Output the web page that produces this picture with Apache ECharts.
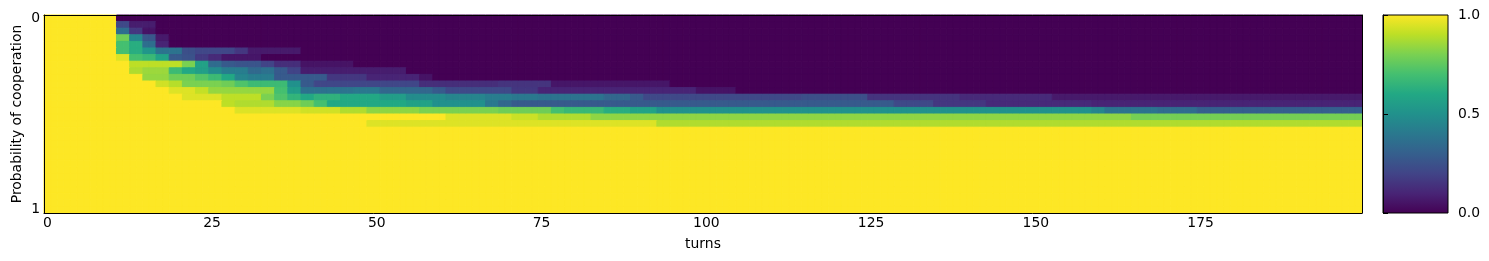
<!DOCTYPE html>
<html><head><meta charset="utf-8">
<script src="https://cdn.jsdelivr.net/npm/echarts@6/dist/echarts.min.js"></script>
<style>html,body{margin:0;padding:0;background:#fff}#c{width:1489px;height:261px}</style>
</head><body><div id="c"></div>
<script>
// Heatmap values: each row listed as runs [startTurn, value]; a run lasts until the next start.
const nTurns = 200;
const row00 = [[0,1],[11,0]];
const row01 = [[0,1],[11,0.22],[13,0.08],[17,0]];
const row02 = [[0,1],[11,0.36],[13,0.16],[15,0.05],[17,0]];
const row03 = [[0,1],[11,0.78],[13,0.46],[15,0.27],[17,0.07],[19,0]];
const row04 = [[0,1],[11,0.70],[13,0.62],[15,0.36],[17,0.10],[19,0]];
const row05 = [[0,1],[11,0.70],[13,0.62],[15,0.52],[17,0.38],[21,0.24],[23,0.21],[29,0.16],[31,0.07],[39,0]];
const row06 = [[0,1],[11,0.95],[13,0.70],[15,0.67],[17,0.58],[19,0.28],[21,0.25],[23,0.17],[25,0.12],[27,0.06],[33,0]];
const row07 = [[0,1],[13,0.90],[21,0.80],[23,0.57],[25,0.35],[27,0.28],[29,0.26],[33,0.20],[35,0.13],[39,0.05],[47,0]];
const row08 = [[0,1],[13,0.88],[15,0.85],[19,0.68],[21,0.60],[23,0.56],[25,0.48],[27,0.42],[31,0.34],[33,0.37],[35,0.28],[37,0.20],[39,0.08],[55,0]];
const row09 = [[0,1],[15,0.84],[19,0.78],[23,0.73],[25,0.68],[27,0.60],[29,0.45],[31,0.42],[35,0.28],[43,0.16],[49,0.10],[57,0.05],[59,0]];
const row10 = [[0,1],[17,0.93],[19,0.89],[21,0.80],[27,0.78],[29,0.72],[31,0.68],[37,0.50],[39,0.28],[41,0.21],[57,0.13],[69,0.15],[77,0.06],[95,0]];
const row11 = [[0,1],[19,0.95],[23,0.91],[25,0.84],[35,0.70],[37,0.55],[39,0.37],[43,0.38],[47,0.40],[51,0.33],[59,0.28],[61,0.22],[71,0.16],[75,0.10],[99,0.05],[105,0]];
const row12 = [[0,1],[21,0.95],[27,0.90],[33,0.80],[35,0.72],[37,0.65],[39,0.60],[41,0.64],[45,0.60],[51,0.55],[55,0.48],[61,0.45],[67,0.42],[71,0.40],[75,0.38],[85,0.33],[89,0.28],[91,0.22],[115,0.24],[125,0.15],[139,0.12],[153,0.07]];
const row13 = [[0,1],[27,0.90],[29,0.88],[35,0.82],[39,0.78],[41,0.70],[43,0.60],[55,0.57],[59,0.50],[67,0.40],[69,0.33],[71,0.28],[129,0.22],[135,0.16],[143,0.12],[159,0.10]];
const row14 = [[0,1],[29,0.95],[39,0.93],[45,0.88],[49,0.83],[57,0.80],[69,0.78],[77,0.70],[79,0.67],[85,0.62],[89,0.58],[93,0.50],[159,0.45],[161,0.38],[169,0.35],[175,0.30]];
const row15 = [[0,1],[61,0.95],[71,0.92],[75,0.88],[83,0.83],[165,0.79]];
const row16 = [[0,1],[49,0.95],[93,0.88]];
const rowFull = [[0,1]];
const rows = [row00,row01,row02,row03,row04,row05,row06,row07,row08,row09,row10,row11,row12,row13,row14,row15,row16,
  rowFull,rowFull,rowFull,rowFull,rowFull,rowFull,rowFull,rowFull,rowFull,rowFull,rowFull,rowFull,rowFull];

const xTickTurns = [0,25,50,75,100,125,150,175];
const yTickRows = [0,29];
const yTickText = ['0','1'];
const cbarTicks = [0,0.5,1];

const viridis = ['#440154','#482475','#414487','#355f8d','#2a788e','#21918c','#22a884','#44bf70','#7ad151','#bddf26','#fde725'];

// expand runs into cells
const cells = [];
rows.forEach((runs, r) => {
  for (let c = 0; c < nTurns; c++) {
    let v = runs[0][1];
    for (const [s, val] of runs) { if (s <= c) v = val; }
    cells.push([c, r, v]);
  }
});
const xCats = Array.from({length: nTurns}, (_, i) => String(i));
const yCats = Array.from({length: rows.length}, (_, i) => String(i));

const font = 'DejaVu Sans';
const fs = 13.9;
const chart = echarts.init(document.getElementById('c'), null, {renderer: 'canvas'});
chart.setOption({
  animation: false,
  backgroundColor: '#fff',
  textStyle: {fontFamily: font},
  grid: [
    {left: 44, right: 127, top: 15, bottom: 48, containLabel: false, outerBoundsMode: 'none'},
    {left: 1383, width: 65, top: 15, height: 198, show: true, borderColor: '#000', borderWidth: 1,
     containLabel: false, outerBoundsMode: 'none',
     backgroundColor: {type: 'linear', x: 0, y: 1, x2: 0, y2: 0,
       colorStops: viridis.map((c, i) => ({offset: i / (viridis.length - 1), color: c}))}}
  ],
  xAxis: [
    {type: 'category', gridIndex: 0, data: xCats, boundaryGap: true, z: 10,
     name: 'turns', nameLocation: 'middle', nameGap: 24, nameMoveOverlap: false,
     nameTextStyle: {fontFamily: font, fontSize: fs, color: '#000'},
     axisLine: {show: true, lineStyle: {color: '#000', width: 1}},
     axisTick: {show: false},
     axisLabel: {show: true, margin: 3, color: '#000', fontFamily: font, fontSize: fs,
       interval: (i) => xTickTurns.includes(i)},
     splitLine: {show: false}},
    {type: 'category', gridIndex: 0, data: xCats, position: 'top', z: 10,
     axisLine: {show: true, lineStyle: {color: '#000', width: 1}},
     axisTick: {show: false}, axisLabel: {show: false}, splitLine: {show: false}},
    {type: 'value', gridIndex: 1, min: 0, max: 1, show: false}
  ],
  yAxis: [
    {type: 'category', gridIndex: 0, data: yCats, inverse: true, z: 10,
     name: 'Probability of cooperation', nameLocation: 'middle', nameGap: 20, nameRotate: 90,
     nameMoveOverlap: false,
     nameTextStyle: {fontFamily: font, fontSize: fs, color: '#000'},
     axisLine: {show: true, lineStyle: {color: '#000', width: 1}},
     axisTick: {show: false},
     axisLabel: {show: true, margin: 4, color: '#000', fontFamily: font, fontSize: fs,
       interval: (i) => yTickRows.includes(i),
       formatter: (v, i) => yTickText[yTickRows.indexOf(i)]},
     splitLine: {show: false}},
    {type: 'category', gridIndex: 0, data: yCats, inverse: true, position: 'right', z: 10,
     axisLine: {show: true, lineStyle: {color: '#000', width: 1}},
     axisTick: {show: false}, axisLabel: {show: false}, splitLine: {show: false}},
    {type: 'value', gridIndex: 1, min: 0, max: 1, interval: 0.5, position: 'right', z: 10,
     axisLine: {show: true, lineStyle: {color: '#000'}},
     axisTick: {show: true, length: 5, lineStyle: {color: '#000'}},
     axisLabel: {show: true, margin: 10, color: '#000', fontFamily: font, fontSize: fs,
       formatter: (v) => cbarTicks.includes(v) ? v.toFixed(1) : ''},
     splitLine: {show: false}}
  ],
  visualMap: {type: 'continuous', min: 0, max: 1, show: false, seriesIndex: 0, dimension: 2, inRange: {color: viridis}},
  series: [
    {type: 'custom', xAxisIndex: 0, yAxisIndex: 0, data: cells, clip: true, silent: true,
     encode: {x: 0, y: 1},
     renderItem: (params, api) => {
       const p = api.coord([api.value(0), api.value(1)]);
       const s = api.size([1, 1]);
       const col = api.visual('color');
       return {type: 'rect',
         shape: {x: p[0] - s[0] / 2, y: p[1] - s[1] / 2, width: s[0], height: s[1]},
         style: {fill: col, stroke: col, lineWidth: 1}};
     }},
    {type: 'line', xAxisIndex: 2, yAxisIndex: 2, data: [], silent: true}
  ]
});
</script></body></html>
